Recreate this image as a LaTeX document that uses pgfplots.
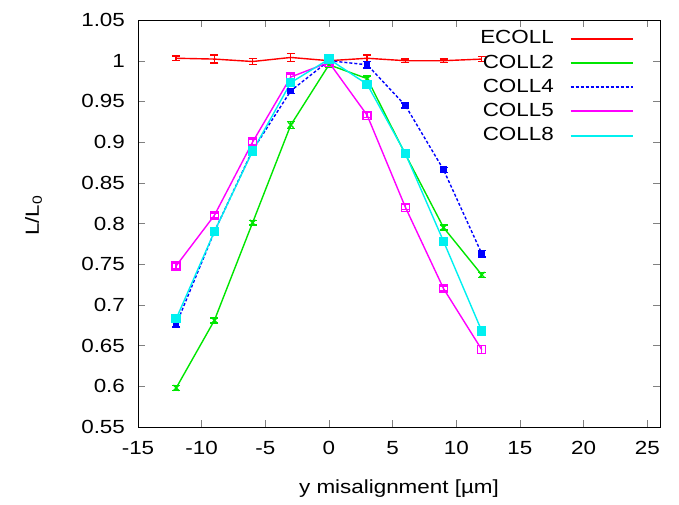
\documentclass[border=0pt]{standalone}
\usepackage{pgfplots}
\pgfplotsset{compat=1.18}
\usepackage{fontspec}
\setmainfont{Liberation Sans}[FakeStretch=1.18]
\definecolor{gred}{RGB}{255,0,0}
\definecolor{ggreen}{RGB}{0,230,0}
\definecolor{gblue}{RGB}{0,0,255}
\definecolor{gmag}{RGB}{255,0,255}
\definecolor{gcyan}{RGB}{0,240,240}
\begin{document}
\begin{tikzpicture}
\begin{axis}[
  scale only axis, width=261pt, height=203.5pt,
  xmin=-15, xmax=26, ymin=0.55, ymax=1.05,
  xtick={-15,-10,...,25}, ytick={0.55,0.6,...,1.05},
  yticklabels={0.55,0.6,0.65,0.7,0.75,0.8,0.85,0.9,0.95,1,1.05},
  tick align=inside, tick pos=both, major tick length=3.5pt,
  /pgf/number format/assume math mode=true,
  tick label style={font=\fontsize{9.5}{11}\selectfont},
  xticklabel style={yshift=-3.5pt},
  yticklabel style={xshift=-3pt},
  label style={font=\fontsize{9.5}{11}\selectfont},
  xlabel={y misalignment [µm]},
  ylabel={L/L\textsubscript{0}},
  xlabel style={at={(axis description cs:0.5,0)}, anchor=center, yshift=-31pt},
  ylabel style={at={(axis description cs:-0.2,0.52)}, anchor=center, rotate=0},
  legend plot pos=right,
  legend cell align=right,
  legend style={at={(axis description cs:0.95,0.985)}, anchor=north east, draw=none, fill=none,
    font=\fontsize{9.5}{11}\selectfont, row sep=0pt, inner sep=0pt},
  legend image code/.code={\path (0pt,0pt); \draw[#1, mark=none, line width=1pt] (6pt,0cm) -- (37pt,0cm);},
  every axis plot/.append style={line width=0.7pt},
  error bars/error bar style={line width=0.7pt},
  error bars/error mark options={rotate=90, mark size=2pt, line width=0.7pt},
]
\addplot[gred, mark=none, error bars/.cd, y dir=both, y explicit] coordinates {
 (-12,1.003) +- (0,0.003)
 (-9,1.002) +- (0,0.005)
 (-6,0.999) +- (0,0.004)
 (-3,1.004) +- (0,0.005)
 (0,1.000) +- (0,0.002)
 (3,1.003) +- (0,0.004)
 (6,1.000) +- (0,0.002)
 (9,1.000) +- (0,0.002)
 (12,1.002) +- (0,0.003)
};
\addlegendentry{ECOLL}
\addplot[ggreen, mark=x, mark size=2pt, error bars/.cd, y dir=both, y explicit] coordinates {
 (-12,0.598) +- (0,0.003)
 (-9,0.681) +- (0,0.003)
 (-6,0.801) +- (0,0.003)
 (-3,0.921) +- (0,0.004)
 (0,0.995) +- (0,0.003)
 (3,0.978) +- (0,0.003)
 (6,0.885) +- (0,0.003)
 (9,0.795) +- (0,0.003)
 (12,0.737) +- (0,0.003)
};
\addlegendentry{COLL2}
\addplot[gblue, dash pattern=on 1.5pt off 1pt, mark=square*, mark size=1.3pt, mark options={solid}, error bars/.cd, y dir=both, y explicit] coordinates {
 (-12,0.676) +- (0,0.003)
 (-9,0.790) +- (0,0.003)
 (-6,0.890) +- (0,0.003)
 (-3,0.963) +- (0,0.003)
 (0,1.000) +- (0,0.003)
 (3,0.995) +- (0,0.004)
 (6,0.945) +- (0,0.003)
 (9,0.866) +- (0,0.003)
 (12,0.763) +- (0,0.004)
};
\addlegendentry{COLL4}
\addplot[gmag, mark=square, mark size=2pt, mark options={gmag}, error bars/.cd, y dir=both, y explicit, error bar style={gmag}] coordinates {
 (-12,0.748) +- (0,0.003)
 (-9,0.810) +- (0,0.003)
 (-6,0.900) +- (0,0.003)
 (-3,0.980) +- (0,0.003)
 (0,0.998) +- (0,0.003)
 (3,0.933) +- (0,0.003)
 (6,0.820) +- (0,0.003)
 (9,0.720) +- (0,0.003)
 (12,0.645) +- (0,0.005)
};
\addlegendentry{COLL5}
\addplot[gcyan, mark=square*, mark size=2pt, error bars/.cd, y dir=both, y explicit] coordinates {
 (-12,0.683) +- (0,0.003)
 (-9,0.790) +- (0,0.003)
 (-6,0.889) +- (0,0.003)
 (-3,0.973) +- (0,0.003)
 (0,1.002) +- (0,0.003)
 (3,0.971) +- (0,0.003)
 (6,0.886) +- (0,0.003)
 (9,0.778) +- (0,0.003)
 (12,0.668) +- (0,0.003)
};
\addlegendentry{COLL8}
\end{axis}
\path[use as bounding box] (-69pt,-37.5pt) rectangle (270.5pt,213.5pt);
\end{tikzpicture}
\end{document}
